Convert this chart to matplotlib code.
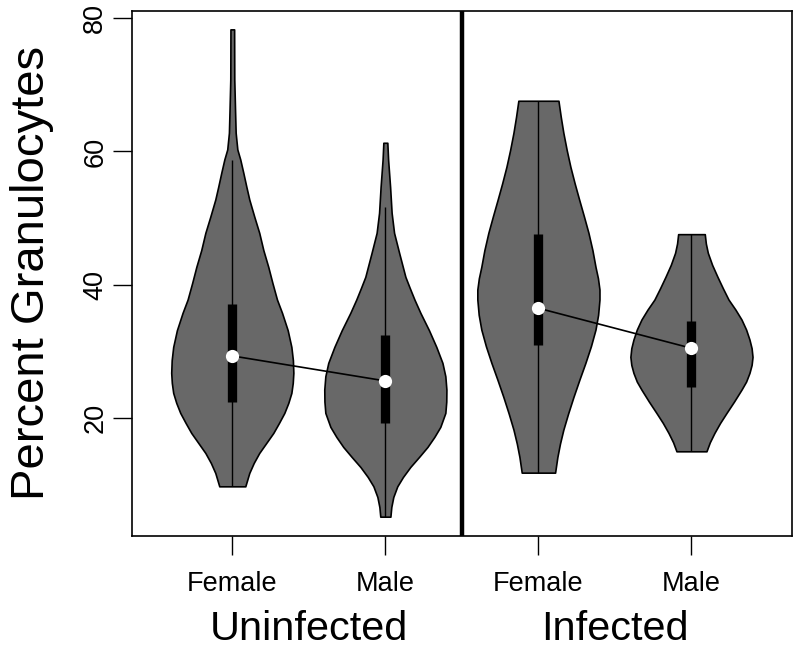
import numpy as np
import matplotlib
matplotlib.use("Agg")
import matplotlib.pyplot as plt
from matplotlib.transforms import blended_transform_factory

plt.rcParams['font.family'] = ['Liberation Sans', 'DejaVu Sans']

# groups / positions
tick_labels = ["Female", "Male", "Female", "Male"]
group_labels = ["Uninfected", "Infected"]
positions = [1, 2, 3, 4]

# violin outlines: level (percent) and half width
fu_y = [78.3, 70.8, 66.2, 62.8, 60.3, 58.8, 56.8, 54.7, 52.8, 50.2, 47.8, 45.2, 42.7,
        40.3, 37.8, 35.8, 33.2, 30.7, 28.7, 26.8, 25.3, 23.8, 22.3, 20.8, 19.3,
        17.8, 16.3, 14.8, 13.3, 11.8, 9.8]
fu_w = [0.012, 0.013, 0.018, 0.022, 0.033, 0.052, 0.072, 0.092, 0.111, 0.144, 0.176,
        0.203, 0.235, 0.262, 0.292, 0.325, 0.362, 0.386, 0.396, 0.399, 0.395, 0.386,
        0.366, 0.340, 0.305, 0.268, 0.222, 0.176, 0.140, 0.111, 0.085]

mu_y = [61.3, 58.8, 54.7, 50.8, 47.8, 44.8, 41.2, 39.5, 37.8, 35.8, 33.2, 30.7,
        28.3, 26.3, 24.3, 22.5, 20.8, 18.7, 17.2, 15.7, 14.2, 12.7, 11.2, 9.8,
        8.2, 6.7, 5.25]
mu_w = [0.013, 0.018, 0.031, 0.041, 0.057, 0.090, 0.131, 0.160, 0.190, 0.229, 0.285,
        0.333, 0.373, 0.392, 0.399, 0.398, 0.392, 0.359, 0.320, 0.275, 0.220, 0.163,
        0.115, 0.078, 0.052, 0.039, 0.033]

fi_y = [67.6, 65.2, 62.8, 60.2, 57.7, 55.2, 52.8, 50.3, 47.8, 45.2, 42.7, 41.0,
        39.3, 37.8, 35.5, 33.3, 30.8, 28.3, 25.8, 23.2, 20.7, 18.3, 16.2, 14.2, 11.85]
fi_w = [0.131, 0.146, 0.163, 0.185, 0.209, 0.237, 0.266, 0.297, 0.327, 0.353, 0.373,
        0.389, 0.399, 0.399, 0.390, 0.373, 0.343, 0.307, 0.268, 0.229, 0.194, 0.163,
        0.141, 0.124, 0.109]

mi_y = [47.6, 46.2, 44.8, 43.0, 41.2, 39.5, 37.8, 36.3, 34.8, 33.3, 31.8, 30.5,
        29.2, 28.0, 26.8, 25.5, 24.3, 22.5, 20.8, 19.3, 17.8, 16.4, 15.05]
mi_w = [0.087, 0.094, 0.107, 0.135, 0.170, 0.205, 0.242, 0.287, 0.327, 0.357, 0.379,
        0.393, 0.399, 0.393, 0.379, 0.357, 0.327, 0.278, 0.229, 0.187, 0.150, 0.120,
        0.098]

outlines = [(fu_y, fu_w), (mu_y, mu_w), (fi_y, fi_w), (mi_y, mi_w)]

# summary stats
medians = [29.35, 25.6, 36.5, 30.5]
q1 = [22.45, 19.35, 31.0, 24.75]
q3 = [37.15, 32.45, 47.65, 34.65]
wlo = [9.8, 5.25, 11.85, 15.05]
whi = [58.75, 51.65, 67.6, 47.6]

fig = plt.figure(figsize=(7.96, 6.56), dpi=100)
ax = fig.add_axes([0.1655, 0.1829, 0.995 - 0.1655, 0.9837 - 0.1829])

for pos, (yy, ww) in zip(positions, outlines):
    yy = np.array(yy)
    ww = np.array(ww)
    ax.fill_betweenx(yy, pos - ww, pos + ww, facecolor='#686868',
                     edgecolor='black', linewidth=1.2, zorder=2)

ax.vlines(positions, wlo, whi, color='black', linewidth=1.0, zorder=3)
ax.vlines(positions, q1, q3, color='black', linewidth=6.7, zorder=4)

ax.plot(positions[:2], medians[:2], color='black', linewidth=1.2, zorder=5)
ax.plot(positions[2:], medians[2:], color='black', linewidth=1.2, zorder=5)
ax.plot(positions, medians, 'o', color='white', markersize=9.5,
        markeredgewidth=0, zorder=6)

ax.axvline(2.5, color='black', linewidth=3.2, zorder=7)

ax.set_xlim(0.343, 4.657)
ax.set_ylim(2.35, 81.1)
ax.set_xticks(positions)
ax.set_xticklabels(tick_labels)
ax.set_yticks([20, 40, 60, 80])
ax.set_yticklabels(["20", "40", "60", "80"], rotation=90, va='center')
ax.tick_params(axis='both', length=14, width=1.0, labelsize=19.5)
ax.tick_params(axis='x', pad=11)
ax.tick_params(axis='y', pad=3)
for s in ax.spines.values():
    s.set_linewidth(1.2)

ax.set_ylabel("Percent Granulocytes", fontsize=34, labelpad=20)

tr = blended_transform_factory(ax.transData, fig.transFigure)
ax.text(1.5, 1 - 629 / 656, group_labels[0], transform=tr, ha='center',
        va='center', fontsize=29.8)
ax.text(3.5, 1 - 629 / 656, group_labels[1], transform=tr, ha='center',
        va='center', fontsize=29.8)

fig.savefig("out.png", dpi=100)
